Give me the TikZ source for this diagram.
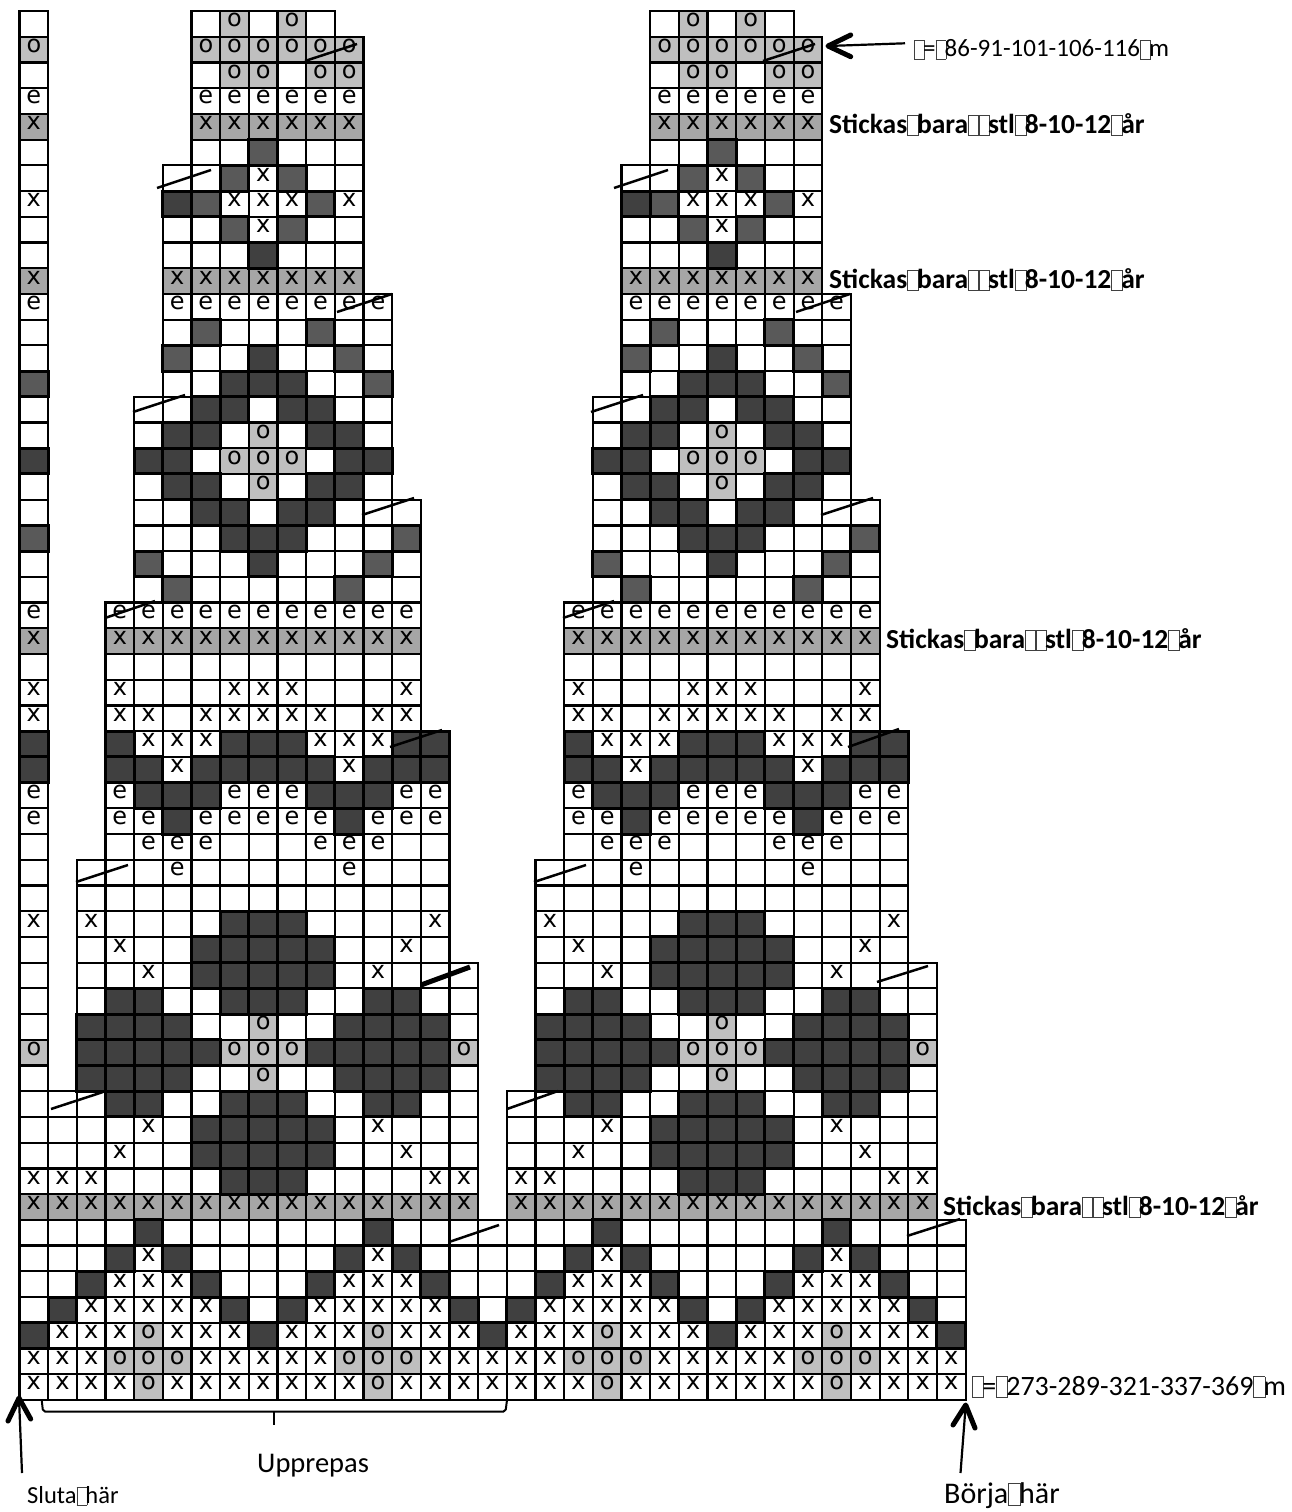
\documentclass[tikz,border=0pt]{standalone}
\usepackage{fontspec}
\setmainfont{Carlito}
\newfontfamily\cellfont{DejaVu Sans}
\definecolor{lo}{HTML}{BFBFBF}
\definecolor{mx}{HTML}{A6A6A6}
\definecolor{dd}{HTML}{595959}
\definecolor{vd}{HTML}{404040}
\newcommand\gx{19.5}
\newcommand\gy{11}
\newcommand\cw{28.67}
\newcommand\ch{25.72}
\newcommand\PassNo{1}
\newcommand\tf{\leavevmode\rlap{\raisebox{-.08em}{\color{black!75}\setlength\fboxsep{0pt}\setlength\fboxrule{.6pt}\fbox{\rule{.38em}{0pt}\rule{0pt}{.72em}}}}\kern .36em\relax}
\tikzset{
  tile/.style={draw=black,line width=2.2pt,inner sep=0pt,outer sep=0pt,minimum width=28.67pt,minimum height=25.72pt,anchor=north west},
  tile-w/.style={fill=white},
  tile-e/.style={fill=white},
  tile-x/.style={fill=white},
  tile-o/.style={fill=lo},
  tile-g/.style={fill=mx},
  tile-d/.style={fill=dd,line width=3pt},
  tile-v/.style={fill=vd,line width=3pt},
  letter/.style={inner sep=0pt,outer sep=0pt,anchor=base,font=\cellfont\fontsize{24}{24}\selectfont},
  slash/.style={line width=2.5pt,draw=black},
  thickslash/.style={line width=5pt,draw=black},
  arrowline/.style={line width=2.2pt,draw=black},
  arrowhead/.style={line width=5pt,draw=black,line cap=round,line join=round},
  sizelabel/.style={inner sep=0pt,anchor=base west},
  boldlabel/.style={inner sep=0pt,anchor=base west,font=\bfseries\fontsize{27.5}{28}\selectfont},
}
\newcommand\PutLetter[3]{\node[letter] (l#1-#2) at ({\cx+14.35},{\cy+15.8}) {#3};}
\newcommand\PlaceCell[3]{%
  \pgfmathsetmacro\cx{\gx+(#2)*\cw}%
  \pgfmathsetmacro\cy{\gy+(#1)*\ch}%
  \ifnum\PassNo=1
    \if v#3\relax\else\if d#3\relax\else
      \node[tile,tile-#3] (c#1-#2) at (\cx,\cy) {};%
    \fi\fi
  \fi
  \ifnum\PassNo=2
    \if v#3\relax\node[tile,tile-v] (c#1-#2) at (\cx,\cy) {};\fi
    \if d#3\relax\node[tile,tile-d] (c#1-#2) at (\cx,\cy) {};\fi
  \fi
  \ifnum\PassNo=3
    \if o#3\relax\PutLetter{#1}{#2}{o}\fi
    \if e#3\relax\PutLetter{#1}{#2}{e}\fi
    \if x#3\relax\PutLetter{#1}{#2}{x}\fi
    \if g#3\relax\PutLetter{#1}{#2}{x}\fi
  \fi
}
\newcommand\RowAt[4]{%
  \foreach \c [count=\i from 0] in {#3} {%
    \pgfmathtruncatemacro\k{#2+\i+#4}%
    \PlaceCell{#1}{\k}{\c}%
  }%
}
\newcommand\Both[3]{\RowAt{#1}{#2}{#3}{0}\RowAt{#1}{#2}{#3}{16}}
\newcommand\ChartData{%
\foreach \c [count=\i from 0] in {w,o,w,e,g,w,w,x,w,w,g,e,w,w,d,w,w,v,w,w,d,w,w,e,g,w,x,x,v,v,e,e,w,w,w,x,w,w,w,w,o,w,w,w,w,x,g,w,w,w,w,v,x,x} {%
  \PlaceCell{\i}{0}{\c}%
}
\Both{0}{6}{w,o,w,o,w}
\Both{1}{6}{o,o,o,o,o,o}
\Both{2}{6}{w,o,o,w,o,o}
\Both{3}{6}{e,e,e,e,e,e}
\Both{4}{6}{g,g,g,g,g,g}
\Both{5}{6}{w,w,d,w,w,w}
\Both{6}{5}{w,w,d,x,d,w,w}
\Both{7}{5}{v,d,x,x,x,d,x}
\Both{8}{5}{w,w,d,x,d,w,w}
\Both{9}{5}{w,w,w,v,w,w,w}
\Both{10}{5}{g,g,g,g,g,g,g}
\Both{11}{5}{e,e,e,e,e,e,e,e}
\Both{12}{5}{w,d,w,w,w,d,w,w}
\Both{13}{5}{d,w,w,v,w,w,d,w}
\Both{14}{5}{w,w,v,v,v,w,w,d}
\Both{15}{4}{w,w,v,v,w,v,v,w,w}
\Both{16}{4}{w,v,v,w,o,w,v,v,w}
\Both{17}{4}{v,v,w,o,o,o,w,v,v}
\Both{18}{4}{w,v,v,w,o,w,v,v,w}
\Both{19}{4}{w,w,v,v,w,v,v,w,w,w}
\Both{20}{4}{w,w,w,v,v,v,w,w,w,d}
\Both{21}{4}{d,w,w,w,v,w,w,w,d,w}
\Both{22}{4}{w,d,w,w,w,w,w,d,w,w}
\Both{23}{3}{e,e,e,e,e,e,e,e,e,e,e}
\Both{24}{3}{g,g,g,g,g,g,g,g,g,g,g}
\Both{25}{3}{w,w,w,w,w,w,w,w,w,w,w}
\Both{26}{3}{x,w,w,w,x,x,x,w,w,w,x}
\Both{27}{3}{x,x,w,x,x,x,x,x,w,x,x}
\Both{28}{3}{v,x,x,x,v,v,v,x,x,x,v,v}
\Both{29}{3}{v,v,x,v,v,v,v,v,x,v,v,v}
\Both{30}{3}{e,v,v,v,e,e,e,v,v,v,e,e}
\Both{31}{3}{e,e,v,e,e,e,e,e,v,e,e,e}
\Both{32}{3}{w,e,e,e,w,w,w,e,e,e,w,w}
\Both{33}{2}{w,w,w,e,w,w,w,w,w,e,w,w,w}
\Both{34}{2}{w,w,w,w,w,w,w,w,w,w,w,w,w}
\Both{35}{2}{x,w,w,w,w,v,v,v,w,w,w,w,x}
\Both{36}{2}{w,x,w,w,v,v,v,v,v,w,w,x,w}
\Both{37}{2}{w,w,x,w,v,v,v,v,v,w,x,w,w,w}
\Both{38}{2}{w,v,v,w,w,v,v,v,w,w,v,v,w,w}
\Both{39}{2}{v,v,v,v,w,w,o,w,w,v,v,v,v,w}
\Both{40}{2}{v,v,v,v,v,o,o,o,v,v,v,v,v,o}
\Both{41}{2}{v,v,v,v,w,w,o,w,w,v,v,v,v,w}
\Both{42}{1}{w,w,v,v,w,w,v,v,v,w,w,v,v,w,w}
\Both{43}{1}{w,w,w,x,w,v,v,v,v,v,w,x,w,w,w}
\Both{44}{1}{w,w,x,w,w,v,v,v,v,v,w,w,x,w,w}
\Both{45}{1}{x,x,w,w,w,w,v,v,v,w,w,w,w,x,x}
\Both{46}{1}{g,g,g,g,g,g,g,g,g,g,g,g,g,g,g}
\Both{47}{1}{w,w,w,v,w,w,w,w,w,w,w,v,w,w,w,w}
\Both{48}{1}{w,w,v,x,v,w,w,w,w,w,v,x,v,w,w,w}
\Both{49}{1}{w,v,x,x,x,v,w,w,w,v,x,x,x,v,w,w}
\Both{50}{1}{v,x,x,x,x,x,v,w,v,x,x,x,x,x,v,w}
\Both{51}{1}{x,x,x,o,x,x,x,v,x,x,x,o,x,x,x,v}
\Both{52}{1}{x,x,o,o,o,x,x,x,x,x,o,o,o,x,x,x}
\Both{53}{1}{x,x,x,o,x,x,x,x,x,x,x,o,x,x,x,x}
}
\begin{document}
\begin{tikzpicture}[x=1pt,y=-1pt]
\useasboundingbox (0,0) rectangle (1291,1512);
\fill[white] (0,0) rectangle (1291,1512);
\renewcommand\PassNo{1}\ChartData
\renewcommand\PassNo{2}\ChartData
\renewcommand\PassNo{3}\ChartData
% shaping slashes
\foreach \ax/\ay/\bx/\by/\st in {
  305/61/357/44/slash, 157/188/211/170/slash, 337/312/392/294/slash,
  133/412/185/395/slash, 362/515/414/498/slash, 105/618/155/601/slash,
  390/747/442/730/slash, 76/882/128/865/slash, 421/985/470/967/thickslash,
  51/1109/103/1092/slash, 449/1242/499/1225/slash,
  763/61/815/44/slash, 614/188/668/170/slash, 796/312/850/294/slash,
  591/412/643/395/slash, 821/515/873/498/slash, 563/618/614/601/slash,
  848/747/899/729/slash, 534/882/586/865/slash, 877/982/928/966/slash,
  507/1109/558/1091/slash, 907/1236/960/1219/slash} {
  \draw[\st] (\ax,\ay) -- (\bx,\by);
}
% labels
\node[sizelabel,font=\fontsize{25}{26}\selectfont] (top) at (914,57) {\tf=\tf 86-91-101-106-116\tf m};
\node[sizelabel,font=\fontsize{28}{29}\selectfont] (bot) at (972,1395) {\tf=\tf 273-289-321-337-369\tf m};
\node[boldlabel] (s1) at (829,133) {Stickas\tf bara\tf\tf stl\tf 8-10-12\tf år};
\node[boldlabel] (s2) at (829,288) {Stickas\tf bara\tf\tf stl\tf 8-10-12\tf år};
\node[boldlabel] (s3) at (886,648) {Stickas\tf bara\tf\tf stl\tf 8-10-12\tf år};
\node[boldlabel] (s4) at (943,1215) {Stickas\tf bara\tf\tf stl\tf 8-10-12\tf år};
\node[inner sep=0pt,anchor=base west,font=\fontsize{28.5}{29}\selectfont] (upp) at (257,1472) {Upprepas};
\node[inner sep=0pt,anchor=base west,font=\fontsize{24.5}{25}\selectfont] (slut) at (27,1503) {Sluta\tf här};
\node[inner sep=0pt,anchor=base west,font=\fontsize{30}{32}\selectfont] (borj) at (944,1503) {Börja\tf här};
% arrows
\coordinate (topTip) at (828,46);
\coordinate (topTail) at (905,43.3);
\coordinate (endTip) at (19,1398);
\coordinate (endTail) at (22,1473);
\coordinate (startTip) at (965.7,1405);
\coordinate (startTail) at (960.5,1473);
\draw[arrowline] (topTail) -- (topTip);
\draw[arrowhead] (850.7,35) -- (topTip) -- (850.7,56.7);
\draw[arrowline] (endTail) -- (endTip);
\draw[arrowhead] (8,1421) -- (endTip) -- (30.7,1419);
\draw[arrowline] (startTail) -- (startTip);
\draw[arrowhead] (953,1425) -- (startTip) -- (975,1428);
% bracket
\coordinate (brL) at (41.7,1400);
\coordinate (brR) at (507,1400);
\coordinate (brM) at (274,1425);
\draw[line width=2pt,rounded corners=2pt] (brL) -- (43,1411.5) -- (505.5,1411.5) -- (brR);
\draw[line width=2pt] (274,1411.5) -- (brM);
\end{tikzpicture}
\end{document}
